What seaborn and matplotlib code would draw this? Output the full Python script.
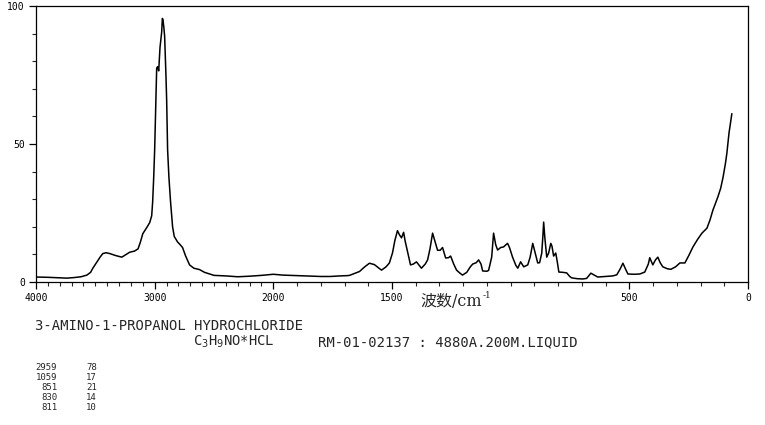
import matplotlib
matplotlib.use('Agg')
import matplotlib.pyplot as plt
import seaborn as sns
import numpy as np
import pandas as pd

# spectrum (cm-1, relative intensity)
wavenumber = [4000, 3900, 3800, 3740, 3680, 3620, 3571, 3540, 3521, 3490, 3460, 3437, 3410, 3378,
              3330, 3277, 3240, 3210, 3170, 3140, 3120, 3100, 3070, 3042, 3025, 3017, 3008, 3000,
              2992, 2983, 2975, 2966, 2955, 2941, 2935, 2930, 2922, 2916, 2905, 2899, 2891, 2880,
              2866, 2849, 2835, 2807, 2785, 2765, 2740, 2706, 2670, 2622, 2580, 2500, 2400, 2300,
              2200, 2100, 2030, 2000, 1960, 1900, 1850, 1800, 1760, 1720, 1690, 1679, 1655, 1637,
              1615, 1595, 1574, 1555, 1544, 1525, 1511, 1498, 1488, 1477, 1468, 1460, 1451, 1445,
              1439, 1422, 1410, 1397, 1385, 1376, 1360, 1350, 1340, 1329, 1320, 1308, 1297, 1287,
              1280, 1274, 1262, 1253, 1240, 1228, 1215, 1203, 1185, 1170, 1160, 1145, 1135, 1125,
              1118, 1100, 1093, 1080, 1072, 1063, 1055, 1042, 1030, 1020, 1013, 1005, 992, 978,
              970, 958, 945, 928, 918, 907, 898, 886, 878, 869, 864, 861, 856, 848, 840, 831, 826,
              819, 810, 803, 797, 780, 764, 751, 743, 720, 696, 680, 662, 650, 633, 600, 570, 553,
              540, 527, 515, 506, 480, 456, 435, 420, 414, 401, 390, 380, 370, 359, 340, 325, 305,
              287, 266, 250, 232, 212, 194, 173, 160, 148, 127, 115, 105, 95, 89, 80, 68]
intensity = [1.8, 1.7, 1.5, 1.4, 1.6, 1.9, 2.5, 3.5, 5.0, 7.0, 9.0, 10.3, 10.6, 10.3,
             9.6, 9.0, 10.0, 10.8, 11.2, 12.0, 14.5, 17.5, 19.5, 21.5, 24.0, 29.0, 38.0, 48.0,
             62.0, 77.5, 78.0, 76.5, 85.0, 90.5, 95.5, 95.0, 92.0, 89.0, 75.0, 66.0, 48.0, 38.0,
             29.0, 20.0, 16.5, 14.5, 13.5, 12.5, 9.5, 6.2, 5.0, 4.5, 3.5, 2.4, 2.2, 1.9,
             2.1, 2.4, 2.7, 2.8, 2.5, 2.3, 2.1, 2.0, 2.0, 2.2, 2.3, 2.4, 3.2, 3.8,
             5.5, 6.8, 6.3, 5.0, 4.3, 5.5, 6.9, 10.5, 15.0, 18.6, 17.0, 16.0, 18.0, 15.0,
             12.7, 6.2, 6.5, 7.3, 6.0, 5.0, 6.5, 8.0, 12.0, 17.7, 15.0, 11.5, 11.5, 12.5,
             10.5, 8.7, 8.8, 9.4, 6.5, 4.3, 3.3, 2.5, 3.5, 5.5, 6.5, 7.0, 8.0, 6.5,
             4.0, 3.9, 4.2, 9.0, 17.7, 13.5, 11.6, 12.5, 12.7, 13.5, 14.0, 12.5, 9.0, 6.0,
             5.0, 7.3, 5.5, 6.2, 9.0, 14.0, 11.0, 6.9, 7.0, 10.5, 17.0, 21.7, 16.0, 9.0, 10.5, 14.0, 13.0,
             9.4, 10.5, 7.0, 3.6, 3.5, 3.3, 2.0, 1.5, 1.2, 1.1, 1.3, 3.2, 2.6, 1.8, 2.0, 2.2, 2.6,
             4.5, 6.8, 4.5, 2.9, 2.8, 2.9, 3.6, 6.5, 8.8, 6.2, 8.0, 9.0, 7.0, 5.5, 4.8, 4.6, 5.5,
             6.9, 6.9, 9.5, 12.7, 15.5, 17.7, 19.5, 22.5, 26.0, 30.8, 34.0, 38.0, 43.0, 46.7, 54.0, 61.0]

x_ticks = [4000, 3000, 2000, 1500, 500, 0]
y_ticks = [0, 50, 100]

compound = "3-AMINO-1-PROPANOL HYDROCHLORIDE"
formula = "C$_3$H$_9$NO*HCL"
sample_info = "RM-01-02137 : 4880A.200M.LIQUID"
peak_wn = [2959, 1059, 851, 830, 811]
peak_int = [78, 17, 21, 14, 10]


# axis is compressed 2x above 2000 cm-1
def fwd(w):
    w = np.asarray(w, dtype=float)
    return np.where(w > 2000, 2000 + (w - 2000) / 2, w)


def inv(d):
    d = np.asarray(d, dtype=float)
    return np.where(d > 2000, 2000 + (d - 2000) * 2, d)


sns.set_style('ticks')
plt.rcParams['font.family'] = ['DejaVu Sans Mono']
plt.rcParams['axes.linewidth'] = 0.9

df = pd.DataFrame({'wavenumber': wavenumber, 'intensity': intensity})

fig = plt.figure(figsize=(7.65, 4.25), dpi=100)
ax = fig.add_axes([36 / 765, 1 - 282 / 425, 712 / 765, 276 / 425])

sns.lineplot(data=df, x='wavenumber', y='intensity', color='black', linewidth=1.1,
             sort=False, ax=ax)

ax.set_xscale('function', functions=(fwd, inv))
ax.set_xlim(4000, 0)
ax.set_ylim(0, 100)
ax.set_xticks(x_ticks)
ax.set_xticklabels([str(t) for t in x_ticks])
ax.set_xticks(np.arange(0, 4001, 100), minor=True)
ax.set_yticks(y_ticks)
ax.set_yticks(np.arange(0, 101, 10), minor=True)
ax.tick_params(which='major', direction='out', length=5, width=0.9, labelsize=7, pad=3,
               colors='black')
ax.tick_params(which='minor', direction='out', length=3, width=0.8)
ax.set_xlabel('')
ax.set_ylabel('')
for s in ax.spines.values():
    s.set_visible(True)
    s.set_color('black')

# axis title: 波数/cm with a small raised -1 placed right after it
lab = fig.text(420 / 765, 1 - 302 / 425, "波数/cm", fontsize=11.5, va='center', ha='left',
               family=['DejaVu Serif', 'Noto Sans CJK SC'])
bb = lab.get_window_extent(renderer=fig.canvas.get_renderer())
fig.text((bb.x1 + 1) / 765, 1 - 296 / 425, "-1", fontsize=6.5, va='center', ha='left',
         family=['DejaVu Serif'])

fig.text(35 / 765, 1 - 326 / 425, compound, fontsize=10, va='center', ha='left')
fig.text(193 / 765, 1 - 342 / 425, formula, fontsize=10, va='center', ha='left')
fig.text(318 / 765, 1 - 342 / 425, sample_info, fontsize=10, va='center', ha='left')

row_y = 368
for w, i in zip(peak_wn, peak_int):
    fig.text(57 / 765, 1 - row_y / 425, str(w), fontsize=6.5, va='center', ha='right')
    fig.text(97 / 765, 1 - row_y / 425, str(i), fontsize=6.5, va='center', ha='right')
    row_y += 9.8

fig.savefig('out.png', dpi=100)
